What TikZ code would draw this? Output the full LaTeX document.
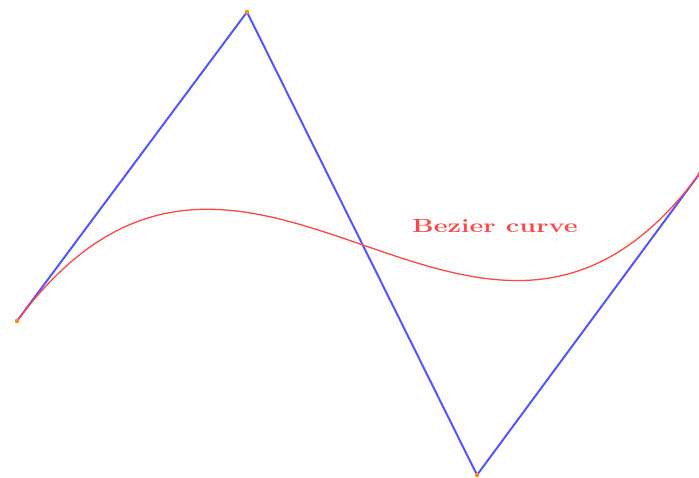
\documentclass[tikz,border=0pt]{standalone}
\usepackage{tikz}
\usetikzlibrary{positioning,calc}

\definecolor{polyblue}{RGB}{85,85,255}
\definecolor{curvered}{RGB}{255,70,70}
\definecolor{dotorange}{RGB}{255,140,20}

\begin{document}
\begin{tikzpicture}[
    x=1pt, y=-1pt,
    ctrlpt/.style={circle, fill=dotorange, inner sep=0pt, minimum size=4pt},
    polygon/.style={polyblue, line width=2pt},
    bezier/.style={curvered, line width=1.3pt},
    lbl/.style={curvered, font=\fontsize{19}{22}\selectfont\bfseries, xscale=1.42}
]
\useasboundingbox (0,0) rectangle (699,477);

%% ── Control points ──────────────────────────────────────────────
\node[ctrlpt] (p0) at (17,321)  {};
\node[ctrlpt] (p1) at (247,12)  {};
\node[ctrlpt] (p2) at (477,475) {};
\node[ctrlpt] (p3) at (700,173) {};

%% ── Control polygon ─────────────────────────────────────────────
\draw[polygon] (p0.center) -- (p1.center) -- (p2.center) -- (p3.center);

%% ── Curve ───────────────────────────────────────────────────────
\draw[bezier] (p0.center) .. controls (p1.center) and (p2.center) .. (p3.center);

%% ── Label ───────────────────────────────────────────────────────
\node[lbl] (title) at (495,226) {Bezier curve};

%% dots on top
\foreach \p in {p0,p1,p2}
    \fill[dotorange] (\p) circle (2.2pt);
\end{tikzpicture}
\end{document}
